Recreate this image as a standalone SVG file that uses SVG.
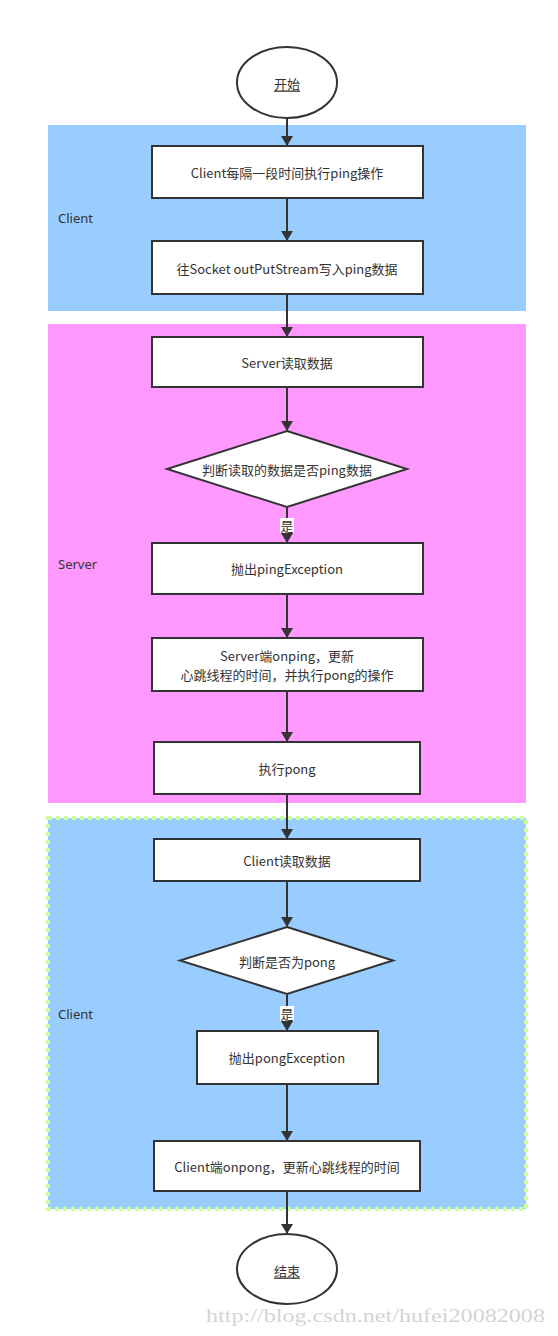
<svg xmlns="http://www.w3.org/2000/svg" width="558" height="1336" viewBox="0 0 558 1336">
<style>
.t{font-family:"Noto Sans CJK SC","Noto Sans",sans-serif;font-size:13px;fill:#333;text-anchor:middle;dominant-baseline:central}
.lbl{font-family:"Noto Sans","Noto Sans CJK SC",sans-serif;font-size:13px;fill:#333;dominant-baseline:central}
.box{fill:#fff;stroke:#333;stroke-width:2}
.c{stroke:#333;stroke-width:2;fill:none;marker-end:url(#ah)}
</style>
<defs>
<marker id="ah" markerUnits="userSpaceOnUse" markerWidth="10" markerHeight="12" viewBox="0 0 10 12" refX="10" refY="6" orient="auto">
<path d="M0,0 L10,6 L0,12 z" fill="#333"/>
</marker>
</defs>
<rect width="558" height="1336" fill="#fff"/>
<g id="lane-client1">
<rect x="48" y="125" width="478" height="186" fill="#99ccff"/>
<text class="lbl" x="58" y="218">Client</text>
</g>
<g id="lane-server">
<rect x="48" y="324" width="478" height="479" fill="#ff99ff"/>
<text class="lbl" x="58" y="564">Server</text>
</g>
<g id="lane-client2">
<rect x="48" y="818" width="478" height="391" fill="#99ccff" stroke="#ccff99" stroke-width="4" stroke-dasharray="4 4"/>
<text class="lbl" x="58" y="1014">Client</text>
</g>
<g id="connectors">
<line class="c" x1="287" y1="118" x2="287" y2="146"/>
<line class="c" x1="287" y1="198" x2="287" y2="241"/>
<line class="c" x1="287" y1="294" x2="287" y2="337"/>
<line class="c" x1="287" y1="387" x2="287" y2="431"/>
<line class="c" x1="287" y1="507" x2="287" y2="543"/>
<line class="c" x1="287" y1="594" x2="287" y2="638"/>
<line class="c" x1="287" y1="691" x2="287" y2="742"/>
<line class="c" x1="287" y1="794" x2="287" y2="839"/>
<line class="c" x1="287" y1="881" x2="287" y2="927"/>
<line class="c" x1="287" y1="994" x2="287" y2="1031"/>
<line class="c" x1="287" y1="1084" x2="287" y2="1141"/>
<line class="c" x1="287" y1="1191" x2="287" y2="1234"/>
<g id="label-yes1">
<rect x="280" y="518" width="14" height="15" fill="#fff"/>
<text class="t" x="287" y="525">是</text>
</g>
<g id="label-yes2">
<rect x="280" y="1006" width="14" height="15" fill="#fff"/>
<text class="t" x="287" y="1013">是</text>
</g>
</g>
<g id="start">
<ellipse cx="287" cy="82.5" rx="50" ry="35.5" fill="#fff" stroke="#333" stroke-width="2"/>
<text class="t" x="287" y="83" text-decoration="underline">开始</text>
</g>
<g id="n1">
<rect class="box" x="152" y="146" width="271" height="52"/>
<text class="t" x="287" y="172">Client每隔一段时间执行ping操作</text>
</g>
<g id="n2">
<rect class="box" x="152" y="241" width="271" height="53"/>
<text class="t" x="287" y="268">往Socket outPutStream写入ping数据</text>
</g>
<g id="n3">
<rect class="box" x="152" y="337" width="271" height="50"/>
<text class="t" x="287" y="362">Server读取数据</text>
</g>
<g id="d1">
<polygon points="287,431 407,469 287,507 167,469" fill="#fff" stroke="#333" stroke-width="2"/>
<text class="t" x="287" y="469">判断读取的数据是否ping数据</text>
</g>
<g id="n4">
<rect class="box" x="152" y="543" width="271" height="51"/>
<text class="t" x="287" y="568">抛出pingException</text>
</g>
<g id="n5">
<rect class="box" x="152" y="638" width="271" height="53"/>
<text class="t" x="287" y="655">Server端onping，更新</text>
<text class="t" x="287" y="674">心跳线程的时间，并执行pong的操作</text>
</g>
<g id="n6">
<rect class="box" x="154" y="742" width="266" height="52"/>
<text class="t" x="287" y="768">执行pong</text>
</g>
<g id="n7">
<rect class="box" x="154" y="839" width="266" height="42"/>
<text class="t" x="287" y="860">Client读取数据</text>
</g>
<g id="d2">
<polygon points="287,927 393,960.5 287,994 180,960.5" fill="#fff" stroke="#333" stroke-width="2"/>
<text class="t" x="287" y="961">判断是否为pong</text>
</g>
<g id="n8">
<rect class="box" x="197" y="1031" width="181" height="53"/>
<text class="t" x="287" y="1057">抛出pongException</text>
</g>
<g id="n9">
<rect class="box" x="154" y="1141" width="266" height="50"/>
<text class="t" x="287" y="1166">Client端onpong，更新心跳线程的时间</text>
</g>
<g id="end">
<ellipse cx="287" cy="1269" rx="50" ry="35" fill="#fff" stroke="#333" stroke-width="2"/>
<text class="t" x="287" y="1270" text-decoration="underline">结束</text>
</g>
<text x="206" y="1322" font-family="Liberation Serif,serif" font-size="18" fill="#d4d4d4" textLength="339" lengthAdjust="spacingAndGlyphs">http://blog.csdn.net/hufei20082008</text>
</svg>
